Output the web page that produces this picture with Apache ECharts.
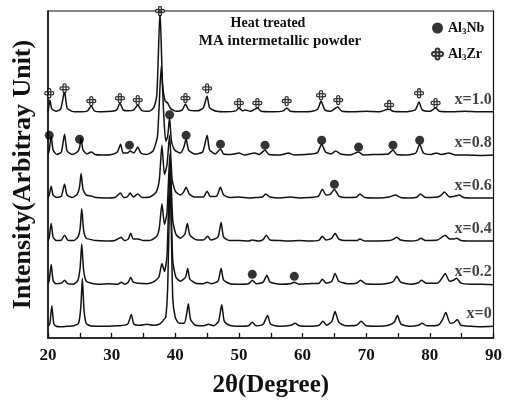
<!DOCTYPE html>
<html><head><meta charset="utf-8">
<script src="https://cdn.jsdelivr.net/npm/echarts/dist/echarts.min.js"></script>
<style>html,body{margin:0;padding:0;background:#fff}#c{width:505px;height:403px}</style>
</head><body><div id="c"></div>
<script>
// ---- data (2θ in degrees, intensity in arbitrary units above each trace's baseline) ----
const traceNames = ['x=0', 'x=0.2', 'x=0.4', 'x=0.6', 'x=0.8', 'x=1.0'];
const traceOffsets = [11, 54, 98, 142, 186, 230];

const trace_x00 = [[20,1],[20.3,4],[20.6,22],[20.9,4],[21.3,1],[22,0.5],[23,1],[24,1.5],[24.8,4],[25.15,20],[25.4,50],[25.65,18],[26,4],[26.6,1.5],[28,1],[29.5,1],[31,1.5],[32.5,3],[33.1,13],[33.5,3],[34.5,2],[35.5,3],[36.5,2],[37.5,3],[38.0,6],[38.2,8],[38.5,10],[38.8,40],[39.2,150],[39.6,30],[40,10],[40.6,4],[41.4,4],[41.8,14],[42.05,24],[42.4,8],[43.2,2],[44.5,1.5],[45.2,3],[46,1.5],[46.8,6],[47.3,23],[47.7,6],[48.5,2],[50,1],[51.5,1.5],[52.1,5],[52.7,1.5],[53.8,3],[54.5,12],[55,3],[56.5,1],[58.2,2],[58.8,4],[59.5,1.5],[61,1],[62.6,2],[63.2,6],[63.8,2],[64.6,6],[65.1,16],[65.7,5],[66.8,1.5],[68.5,2],[69.2,6],[70,1.5],[72,1],[73.5,2],[74.4,5],[74.9,12],[75.5,3],[77,1],[78.2,2],[78.8,4],[79.5,1.5],[81.3,2],[82,8],[82.5,15],[83.2,4],[83.8,5],[84.3,8],[84.9,2],[86.5,1],[88,0.5],[90,1]];
const trace_x02 = [[20,1],[20.2,5],[20.5,21],[20.8,5],[21.2,1.5],[22.1,2],[22.6,5],[23.1,1.5],[24,1],[24.7,5],[25.05,18],[25.3,42],[25.6,15],[26,4],[26.8,2],[28,1],[29.5,1.5],[31,1],[31.5,3],[32,1],[32.6,3],[33,8],[33.4,3],[34.2,2],[35.5,1.5],[36.5,3],[37.4,8],[37.9,22],[38.3,14],[38.7,30],[39.15,120],[39.6,25],[40.1,8],[40.8,4],[41.6,8],[41.95,17],[42.3,6],[43.2,2],[44.4,1.5],[45,3],[45.6,1.5],[46.7,4],[47.2,17],[47.6,5],[48.6,1.5],[50,1],[51.5,1.5],[52.1,5],[52.7,1.5],[53.8,3],[54.4,10],[54.9,3],[56.5,1],[58.1,1.5],[58.7,3],[59.4,1],[61,1.5],[62.6,2],[63.1,6],[63.7,2],[64.6,4],[65.1,12],[65.7,4],[67,1.5],[68.5,2],[69.1,5],[69.9,1.5],[72,1],[73.5,2],[74.3,4],[74.8,9],[75.4,3],[77,1],[78.2,2.5],[78.7,5],[79.4,2],[81.2,2],[81.9,7],[82.4,12],[83.1,4],[83.7,5],[84.2,7],[84.9,2],[86.5,1],[88,1],[90,0.5]];
const trace_x04 = [[20,1],[20.2,5],[20.5,19],[20.8,5],[21.3,1.5],[22.1,2],[22.6,7],[23.1,2],[24,1.5],[24.7,5],[25.05,14],[25.3,34],[25.6,12],[26,4],[26.8,2.5],[27.5,1.5],[29,1],[30.5,1.5],[31.5,5],[32,1.5],[32.6,3],[33,9],[33.4,3],[34.2,3],[35,1.5],[36.2,2],[37.1,6],[37.5,15],[37.9,39],[38.3,18],[38.7,30],[39.15,90],[39.6,22],[40.1,8],[40.8,4],[41.5,8],[41.9,19],[42.3,7],[43.2,2.5],[44.4,2],[45.1,6],[45.6,2],[46.7,5],[47.2,20],[47.6,5],[48.6,1.5],[50,1.5],[51.5,1],[52.1,2],[53,1],[53.8,2.5],[54.3,7],[54.9,2],[56.5,1.5],[58,1],[59.5,1.5],[61,1],[62.6,2],[63.1,6],[63.7,2],[64.6,4],[65.1,9],[65.7,3],[67,1.5],[68.5,1.5],[69,3],[69.8,1],[72,1],[73.7,1.5],[74.3,3],[74.8,5],[75.4,2],[77,1],[78.1,2],[78.6,4],[79.3,1.5],[81.2,2],[81.9,5],[82.4,7],[83.1,3],[83.7,3],[84.2,4],[84.9,1.5],[86.5,1],[88,1],[90,1]];
const trace_x06 = [[20,1],[20.2,4],[20.5,13],[20.8,4],[21.4,1.5],[22.1,3],[22.6,15],[23,4],[23.8,1.5],[24.6,5],[24.95,12],[25.2,26],[25.5,10],[26,4],[26.8,3],[27.5,1.5],[29,1],[30.5,1.5],[31.4,6],[31.9,1.5],[32.5,2.5],[32.9,6],[33.4,2],[34.1,5],[34.8,1.5],[36,2],[37,7],[37.5,20],[37.9,55],[38.3,25],[38.7,35],[39.1,65],[39.5,20],[40,8],[40.8,4],[41.3,7],[41.7,12],[42.2,5],[43,2],[44.4,2],[45,8],[45.5,2.5],[46.5,3],[47.1,12],[47.6,4],[48.6,1.5],[50,2],[51.5,1],[52.6,1.5],[53.7,2],[54.2,5],[54.9,2],[56.5,1],[58,2],[59.5,1],[61,1.5],[62.5,3],[63.1,10],[63.7,4],[64.4,5],[65,10],[65.7,3],[67,1.5],[68.5,2],[69,5],[69.8,1.5],[72,1],[73.6,2],[74.6,4],[75.4,1.5],[77,1],[78,2],[78.5,5],[79.3,1.5],[81.2,2],[81.8,4],[82.3,7],[83.1,2],[84,3],[84.6,4],[85.3,1.5],[87,1],[88.5,1],[90,1]];
const trace_x08 = [[20,1],[20.2,6],[20.5,20],[20.8,6],[21.4,1.5],[22.1,4],[22.6,22],[23,5],[23.8,1.5],[24.6,4],[24.95,8],[25.2,18],[25.5,6],[26.1,2],[26.8,4],[27.4,1.5],[28.5,1],[30,1.5],[30.9,4],[31.4,12],[31.8,3],[32.5,3],[32.9,5],[33.5,3],[34.1,9],[34.6,3],[35.5,1.5],[36.5,5],[37.2,20],[37.8,92],[38.2,40],[38.5,15],[38.8,20],[39.1,39],[39.4,15],[39.9,6],[40.8,3],[41.3,8],[41.7,17],[42.1,6],[43,2],[44.3,4],[45,21],[45.4,6],[46.3,2],[47.1,7],[47.6,2],[48.8,1.5],[50,3],[50.8,1],[52.5,3],[53.2,1.5],[54.1,6],[54.7,1.5],[56.5,1],[57.8,3],[58.6,1],[60.5,1.5],[62.3,3],[63,12],[63.6,4],[64.5,2],[65.2,5],[66,2],[67.5,1],[68.8,4],[69.5,1],[71.5,1.5],[73.5,2],[74.2,6],[74.8,1.5],[76.5,1],[77.8,3],[78.4,12],[79,3],[80.2,1.5],[81,3],[81.8,1.5],[83,3],[84,1],[86,1],[88,0.5],[90,1]];
const trace_x10 = [[20,1],[20.1,5],[20.3,13],[20.6,4],[21.3,1.5],[22,4],[22.6,22],[23,5],[23.8,1.5],[25,1],[26.2,2],[26.8,7],[27.3,2],[28.5,1],[30,1.5],[30.8,3],[31.3,10],[31.8,3],[32.6,2],[33.5,3],[34.1,8],[34.7,2.5],[35.8,1.5],[36.6,5],[37.1,18],[37.6,104],[38.0,30],[38.4,12],[38.8,10],[39.3,4],[40.2,1.5],[41.1,3],[41.6,9],[42.1,3],[43.5,2],[44.4,5],[45,17],[45.4,5],[46.5,1.5],[48,1],[49.5,2],[50,5],[50.6,2],[51,3],[51.8,1.5],[52.9,5],[53.5,1.5],[55.5,1],[57,2],[57.5,5],[58.1,1.5],[60,1],[61.5,1.5],[62.4,4],[62.9,12],[63.5,3],[64.4,1.5],[65.5,6],[66.2,1.5],[68,1],[70,1.5],[72,1],[73.6,4],[74.2,1.5],[76,1],[77.7,3],[78.3,11],[78.8,3],[80,1.5],[80.9,5],[81.5,1.5],[83.5,1],[85.5,1.5],[87.5,1],[90,1]];

// phase markers: [2θ, absolute intensity position]
const al3nbMarkers = [[20.2,207],[24.95,203],[32.8,197],[39.1,228],[41.7,207],[47.1,198],[54.1,197],[63.0,202],[68.8,195],[74.2,197],[78.4,202],[65.0,157],[52.1,65],[58.7,63]];
const al3zrMarkers = [[20.2,250],[22.6,255],[26.8,242],[31.3,245],[34.1,243],[37.6,334],[41.6,245],[45.0,255],[50.0,240],[52.9,240],[57.5,242],[62.9,248],[65.6,243],[73.6,238],[78.3,250],[80.9,240]];

const xTickValues = [20, 30, 40, 50, 60, 70, 80, 90];

// ---- chart ----
const traces = [trace_x00, trace_x02, trace_x04, trace_x06, trace_x08, trace_x10];
const SERIF = '"Liberation Serif", "DejaVu Serif", serif';
const clover = 'path://M-1.6,-3a1.6,1.6 0 1,0 3.2,0a1.6,1.6 0 1,0 -3.2,0z M1.4,0a1.6,1.6 0 1,0 3.2,0a1.6,1.6 0 1,0 -3.2,0z M-1.6,3a1.6,1.6 0 1,0 3.2,0a1.6,1.6 0 1,0 -3.2,0z M-4.6,0a1.6,1.6 0 1,0 3.2,0a1.6,1.6 0 1,0 -3.2,0z';

const series = traces.map((d, i) => ({
  type: 'line', name: traceNames[i],
  data: d.map(p => [p[0], p[1] + traceOffsets[i]]),
  symbol: 'none', smooth: 0.2, lineStyle: { color: '#111', width: 1.5 }, silent: true, z: 2
}));
series.push({
  type: 'scatter', name: 'Al3Nb', data: al3nbMarkers, symbol: 'circle', symbolSize: 9,
  itemStyle: { color: '#000' }, clip: false, z: 4
});
series.push({
  type: 'scatter', name: 'Al3Zr', data: al3zrMarkers, symbol: clover, symbolSize: 9,
  itemStyle: { color: '#fff', borderColor: '#000', borderWidth: 1.3 }, clip: false, z: 4
});
series.push({
  type: 'scatter', name: 'labels', symbolSize: 1, itemStyle: { color: 'rgba(0,0,0,0)' },
  data: traceNames.map((n, i) => [89.8, traceOffsets[i] + 13, n]),
  label: { show: true, position: [0, 0], align: 'right', verticalAlign: 'middle',
    formatter: p => p.data[2], color: '#111', fontFamily: SERIF, fontWeight: 'bold', fontSize: 16 },
  z: 5
});

const chart = echarts.init(document.getElementById('c'), null, { renderer: 'canvas' });
chart.setOption({
  animation: false,
  backgroundColor: '#fff',
  grid: { left: 48, right: 8, top: 11, bottom: 58, show: true, borderColor: '#111', borderWidth: 1.2 },
  xAxis: {
    type: 'value', min: 20, max: 90, interval: 5,
    axisLine: { lineStyle: { color: '#111', width: 1.5 } },
    axisTick: { inside: true, length: 5, lineStyle: { color: '#111', width: 1.3 } },
    axisLabel: { formatter: v => (xTickValues.indexOf(v) >= 0 ? String(v) : ''), color: '#111',
      fontFamily: SERIF, fontWeight: 'bold', fontSize: 17, margin: 9 },
    splitLine: { show: false },
    name: '2θ(Degree)', nameLocation: 'middle', nameGap: 35,
    nameTextStyle: { color: '#111', fontFamily: SERIF, fontWeight: 'bold', fontSize: 25 }
  },
  yAxis: {
    type: 'value', min: 0, max: 334,
    axisLine: { show: true, lineStyle: { color: '#111', width: 1.5 } },
    axisTick: { show: false }, axisLabel: { show: false }, splitLine: { show: false },
    name: 'Intensity(Arbitray Unit)', nameLocation: 'middle', nameGap: 12,
    nameTextStyle: { color: '#111', fontFamily: SERIF, fontWeight: 'bold', fontSize: 26 }
  },
  legend: {
    data: ['Al3Nb', 'Al3Zr'], orient: 'vertical', left: 426, top: 16, itemGap: 11,
    itemWidth: 11, itemHeight: 11, selectedMode: false,
    formatter: n => n.replace('3', '{s|3}'),
    textStyle: { color: '#111', fontFamily: SERIF, fontWeight: 'bold', fontSize: 14,
      rich: { s: { fontFamily: SERIF, fontWeight: 'bold', fontSize: 9, color: '#111', padding: [7, 0, 0, 0] } } }
  },
  graphic: [
    { type: 'text', x: 268, y: 23, style: { text: 'Heat treated', font: 'bold 14px ' + SERIF, fill: '#111', align: 'center', verticalAlign: 'middle', textAlign: 'center', textVerticalAlign: 'middle' } },
    { type: 'text', x: 280, y: 41, style: { text: 'MA intermetallic powder', font: 'bold 15px ' + SERIF, fill: '#111', align: 'center', verticalAlign: 'middle', textAlign: 'center', textVerticalAlign: 'middle' } }
  ],
  series: series
});
</script></body></html>
